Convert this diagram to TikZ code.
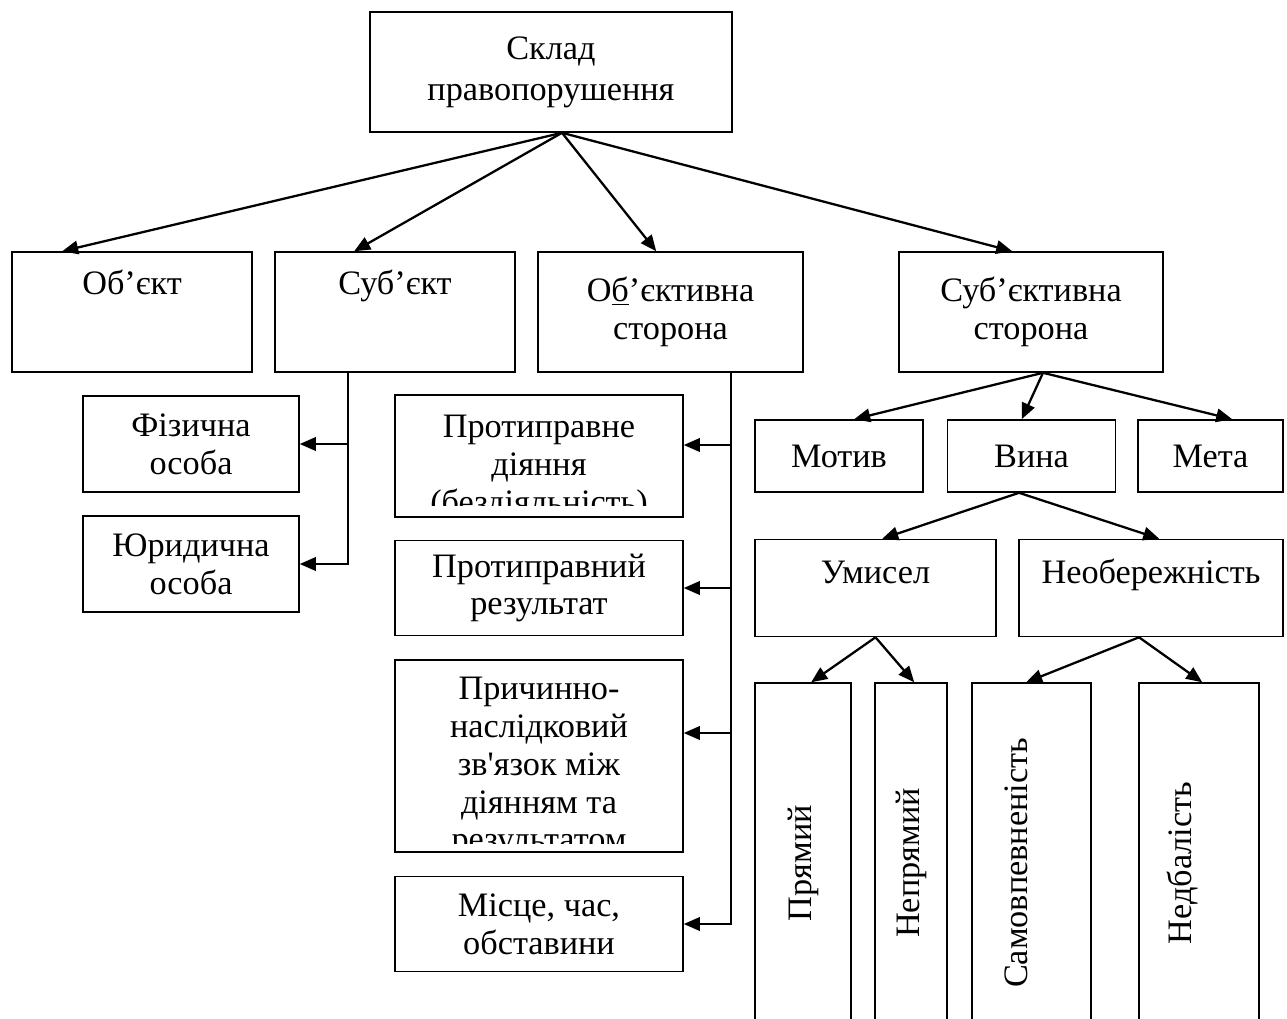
\documentclass[tikz,border=0pt]{standalone}
\usepackage{fontspec}
\newfontfamily\diagfont{Liberation Serif}
\usetikzlibrary{arrows.meta,positioning}

\begin{document}
\begin{tikzpicture}[
    x=0.02cm, y=-0.02cm,
    box/.style={rectangle, draw, line width=0.9pt, align=center, inner sep=0pt, font=\diagfont\fontsize{19.5}{21.5}\selectfont},
    txt/.style={align=center, inner sep=0pt, font=\diagfont\fontsize{19.5}{21.5}\selectfont},
    lift/.style={text height=13pt, text depth=#1},
    arrow/.style={-{Triangle[length=0.32cm,width=0.27cm]}, line width=1.3pt},
    elbow/.style={-{Triangle[length=0.32cm,width=0.27cm]}, line width=1.1pt}
]
\clip (0,0) rectangle (1287,1018);

% Top
\node[box, minimum width=7.24cm, minimum height=2.4cm] (root) at (551,72) {Склад\\[2pt]правопорушення};

% Elements
\node[box, lift=33pt, minimum width=4.8cm, minimum height=2.4cm] (obj) at (132,312) {Об’єкт};
\node[box, lift=33pt, minimum width=4.8cm, minimum height=2.4cm] (subj) at (395,312) {Суб’єкт};
\node[box, minimum width=5.3cm, minimum height=2.4cm] (objside) at (670.5,312) {О\underline{б}’єктивна\\сторона};
\node[box, minimum width=5.28cm, minimum height=2.4cm] (subjside) at (1031,312) {Суб’єктивна\\сторона};

% Subject
\node[box, minimum width=4.32cm, minimum height=1.92cm] (phys) at (191,444) {Фізична\\особа};
\node[box, minimum width=4.32cm, minimum height=1.92cm] (legal) at (191,564) {Юридична\\особа};

% Objective side
\node[box, minimum width=5.76cm, minimum height=2.44cm] (act) at (539,456) {};
\node[box, minimum width=5.76cm, minimum height=1.9cm] (result) at (539,588) {Протиправний\\результат};
\node[box, minimum width=5.76cm, minimum height=3.84cm] (cause) at (539,756) {};
\node[box, minimum width=5.76cm, minimum height=1.9cm] (place) at (539,924) {Місце, час,\\обставини};
\begin{scope}
  \clip (act.north west) rectangle ([yshift=0.24cm]act.south east);
  \node[txt, anchor=north] (act-t) at (539,415) {Протиправне\\діяння\\(бездіяльність)};
\end{scope}
\begin{scope}
  \clip (cause.north west) rectangle ([yshift=0.18cm]cause.south east);
  \node[txt, anchor=north] (cause-t) at (539,677) {Причинно-\\наслідковий\\зв'язок між\\діянням та\\результатом};
\end{scope}

% Subjective side
\node[box, minimum width=3.36cm, minimum height=1.44cm] (motive) at (839,456) {Мотив};
\node[box, minimum width=3.36cm, minimum height=1.44cm] (guilt) at (1031.5,456) {Вина};
\node[box, minimum width=2.9cm, minimum height=1.44cm] (goal) at (1210.5,456) {Мета};
\node[box, lift=18.6pt, minimum width=4.82cm, minimum height=1.94cm] (intent) at (875.5,588) {Умисел};
\node[box, lift=18.6pt, minimum width=5.28cm, minimum height=1.94cm] (careless) at (1151,588) {Необережність};

\node[box, minimum width=1.92cm, minimum height=7.2cm] (direct) at (803,863) {\rotatebox{90}{Прямий}};
\node[box, minimum width=1.44cm, minimum height=7.2cm] (indirect) at (911,863) {\rotatebox{90}{Непрямий}};
\node[box, minimum width=2.38cm, minimum height=7.2cm] (selfconf) at (1031.5,863) {\rotatebox{90}{Самовпевненість\rule[-17pt]{0pt}{17pt}}};
\node[box, minimum width=2.4cm, minimum height=7.2cm] (negligence) at (1199,863) {\rotatebox{90}{Недбалість\rule[-22pt]{0pt}{22pt}}};

% Top arrows
\coordinate (rs) at ([xshift=0.22cm]root.south);
\draw[arrow] (rs) -- ([xshift=1.02cm]obj.north west);
\draw[arrow] (rs) -- ([xshift=1.6cm]subj.north west);
\draw[arrow] (rs) -- ([xshift=2.38cm]objside.north west);
\draw[arrow] (rs) -- ([xshift=2.28cm]subjside.north west);

% Subject branch
\coordinate (sbranch) at ([xshift=-0.94cm]subj.south);
\draw[elbow] (sbranch) |- (phys.east);
\draw[elbow] (sbranch) |- (legal.east);

% Objective side branch
\coordinate (obranch) at ([xshift=1.21cm]objside.south);
\draw[elbow] (obranch) |- ([yshift=0.22cm]act.east);
\draw[elbow] (obranch) |- (result.east);
\draw[elbow] (obranch) |- ([yshift=0.46cm]cause.east);
\draw[elbow] (obranch) |- (place.east);

% Subjective side arrows
\coordinate (ss) at ([xshift=0.24cm]subjside.south);
\draw[arrow] (ss) -- ([xshift=2cm]motive.north west);
\draw[arrow] (ss) -- ([xshift=1.5cm]guilt.north west);
\draw[arrow] (ss) -- ([xshift=1.9cm]goal.north west);
\coordinate (gs) at ([xshift=-0.25cm]guilt.south);
\draw[arrow] (gs) -- ([xshift=2.56cm]intent.north west);
\draw[arrow] (gs) -- ([xshift=2.82cm]careless.north west);
\draw[arrow] (intent.south) -- ([xshift=1.14cm]direct.north west);
\draw[arrow] (intent.south) -- ([xshift=0.8cm]indirect.north west);
\coordinate (cs) at ([xshift=-0.24cm]careless.south);
\draw[arrow] (cs) -- ([xshift=1.1cm]selfconf.north west);
\draw[arrow] (cs) -- ([xshift=1.28cm]negligence.north west);

\end{tikzpicture}
\end{document}
